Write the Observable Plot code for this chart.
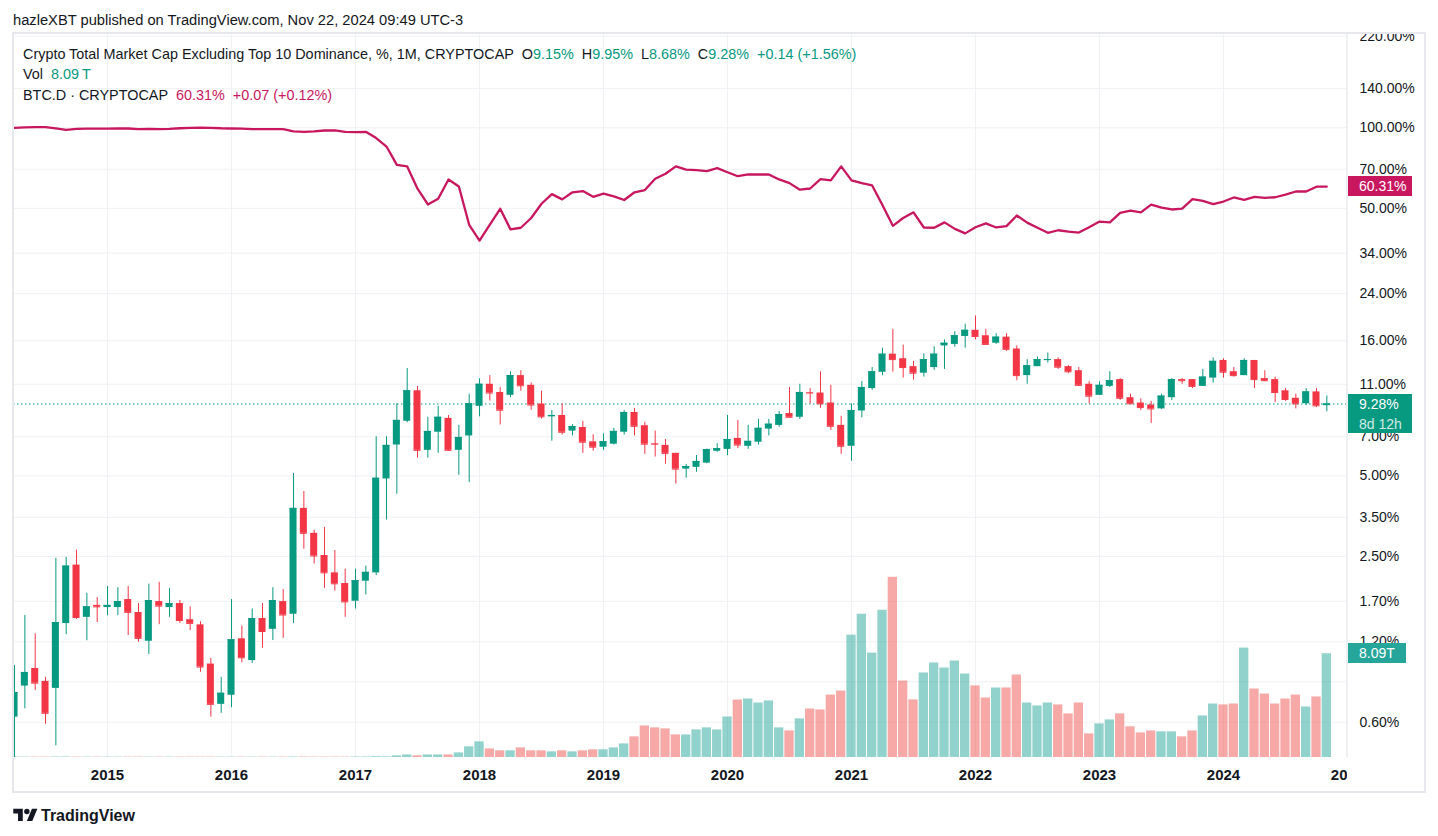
<!DOCTYPE html>
<html>
<head>
<meta charset="utf-8">
<script src="https://cdn.jsdelivr.net/npm/d3@7"></script>
<script src="https://cdn.jsdelivr.net/npm/@observablehq/plot@0.6"></script>
<style>
  html, body { margin: 0; padding: 0; background: #fff; }
  #wrap { position: relative; width: 1438px; height: 836px; overflow: hidden; font-family: "Liberation Sans", Arial, sans-serif; color: #131722; }
  #wrap svg { position: absolute; left: 0; top: 0; }
  .abs { position: absolute; white-space: nowrap; }
  .leg { font-size: 14.4px; line-height: 20px; }
  .hdr { font-size: 14.7px; line-height: 20px; }
  .g { color: #089981; }
  .m { color: #c8175f; }
</style>
</head>
<body>
<div id="wrap"></div>
<script>
// ---------- DATA (monthly, first bar = April 2014, month index relative to Jan 2015) ----------
const firstMonthIndex = -9; // Apr 2014
const yearLabels = [2015, 2016, 2017, 2018, 2019, 2020, 2021, 2022, 2023, 2024, 2025];
const priceTicks = [0.6, 0.85, 1.2, 1.7, 2.5, 3.5, 5, 7, 11, 16, 24, 34, 50, 70, 100, 140, 220];

// Crypto Total Market Cap Excluding Top 10 Dominance (%), monthly OHLC
const opens = [0.627,0.819,0.953,0.853,0.803,1.403,2.32,1.48,1.64,1.61,
  1.61,1.725,1.543,1.205,1.695,1.61,1.667,1.45,1.387,0.99,
  0.70,0.757,1.23,1.02,1.465,1.335,1.695,1.52,3.78,3.05,
  2.52,2.17,1.98,1.70,2.02,2.17,4.87,6.52,8.0,10.4,
  6.23,7.28,8.2,6.23,7.05,9.1,11.0,10.25,10.0,11.85,
  10.9,9.28,8.31,8.41,7.35,7.58,6.7,6.4,6.57,7.28,
  8.63,7.7,6.6,6.5,6.07,5.3,5.38,5.58,6.18,6.28,
  6.9,6.45,6.68,7.48,7.72,8.55,8.28,10.25,10.2,9.36,
  7.72,6.45,8.74,10.6,12.2,14.25,13.7,12.8,12.1,12.7,
  15.3,15.5,16.6,17.5,16.7,15.66,16.5,14.9,11.85,12.8,
  13.5,13.6,12.8,12.36,11.0,10.0,10.8,11.45,9.8,9.36,
  9.2,8.9,9.8,11.45,11.45,10.8,11.6,13.5,12.25,11.85,
  13.5,11.55,11.45,10.4,9.75,9.3,10.3,9.15];
const highs = [0.977,1.504,1.285,0.883,2.46,2.48,2.64,1.82,1.755,1.93,
  1.91,1.93,1.667,1.97,2.0,1.9,1.71,1.62,1.425,1.04,
  0.883,1.725,1.375,1.59,1.667,1.91,1.88,5.1,4.37,3.13,
  3.21,2.63,2.24,2.24,2.30,7.0,7.0,9.3,12.6,10.8,
  8.28,9.1,8.4,7.72,10.1,11.53,11.85,10.7,12.25,12.36,
  11.12,10.37,8.78,9.3,7.77,7.99,7.12,7.18,7.53,8.78,
  8.94,7.93,7.35,6.84,6.07,5.52,5.96,6.3,6.6,8.41,
  8.06,7.72,8.13,8.13,8.7,10.7,11.0,10.6,12.25,10.9,
  8.35,9.28,11.25,12.7,15.0,17.65,15.4,13.4,14.3,15.2,
  16.1,17.3,18.45,19.8,17.65,17.0,17.0,15.3,13.6,13.9,
  14.4,13.8,12.9,12.7,11.25,11.25,12.25,11.55,10.1,9.7,
  9.5,10.1,11.55,11.55,11.45,12.5,13.8,13.7,12.7,13.7,
  13.5,12.36,11.7,10.6,10.1,10.6,10.6,9.95];
const lows = [0.40,0.674,0.789,0.59,0.49,1.275,1.455,1.21,1.415,1.50,
  1.50,1.265,1.195,1.075,1.39,1.48,1.405,1.32,0.923,0.627,
  0.648,0.68,1.0,0.995,1.135,1.213,1.235,1.405,2.66,2.34,
  1.90,1.855,1.48,1.59,1.795,2.12,3.42,4.27,7.9,5.83,
  5.83,6.07,6.18,5.03,4.72,8.31,9.52,7.75,9.78,10.36,
  8.8,8.15,6.74,7.1,7.05,6.07,6.18,6.23,6.52,7.1,
  7.05,6.02,5.88,5.53,4.66,4.9,5.16,5.55,6.12,5.95,
  6.32,6.28,6.52,7.05,7.6,8.28,8.13,9.28,8.94,7.39,
  6.02,5.67,8.24,10.45,11.85,12.2,11.6,11.4,11.7,12.4,
  12.5,15.15,15.0,16.1,15.5,15.5,14.6,11.34,11.0,12.8,
  13.2,12.5,12.05,10.8,9.3,10.0,10.7,9.57,9.3,8.78,
  7.85,8.86,9.57,11.0,10.6,10.8,11.1,11.6,11.7,11.85,
  10.6,11.25,9.4,9.5,8.9,9.15,9.0,8.68];
const closes = [0.775,0.921,0.84,0.648,1.415,2.30,1.478,1.62,1.62,1.64,
  1.695,1.545,1.235,1.71,1.63,1.667,1.44,1.405,0.965,0.70,
  0.77,1.22,1.045,1.465,1.31,1.71,1.51,3.78,3.05,2.51,
  2.17,1.975,1.69,2.03,2.18,4.9,6.5,8.06,10.4,6.23,
  7.33,8.28,6.23,6.96,9.3,11.0,10.2,8.8,11.85,10.86,
  9.2,8.31,8.41,7.28,7.65,6.68,6.4,6.71,7.33,8.63,
  7.66,6.57,6.57,6.07,5.3,5.42,5.66,6.27,6.32,6.84,
  6.52,6.73,7.53,7.8,8.48,8.28,10.25,10.2,9.3,7.66,
  6.45,8.78,10.7,12.25,14.25,13.6,12.7,12.1,13.6,14.25,
  15.66,16.7,17.5,16.6,15.5,16.5,14.85,11.85,12.9,13.6,
  13.6,12.74,12.25,10.9,9.93,10.9,11.34,9.75,9.3,9.0,
  8.9,9.93,11.45,11.34,10.8,11.7,13.4,12.2,11.85,13.5,
  11.45,11.34,10.25,9.65,9.3,10.3,9.14,9.28];
// Volume, trillions
const volumes = [0.04,0.03,0.03,0.03,0.04,0.04,0.03,0.03,0.03,0.03,
  0.03,0.03,0.03,0.03,0.03,0.03,0.03,0.03,0.03,0.03,
  0.03,0.03,0.03,0.03,0.03,0.03,0.03,0.04,0.04,0.03,
  0.03,0.03,0.03,0.04,0.04,0.06,0.05,0.13,0.2,0.13,
  0.2,0.2,0.2,0.36,0.83,1.22,0.67,0.52,0.52,0.75,
  0.52,0.52,0.44,0.52,0.44,0.52,0.6,0.6,0.75,1.06,
  1.61,2.46,2.31,2.23,1.76,1.76,2.15,2.31,2.15,3.16,
  4.48,4.56,4.25,4.41,2.31,2.07,3.01,3.78,3.71,4.87,
  5.18,9.54,11.17,8.14,11.48,14.05,5.96,4.49,6.59,7.37,
  6.98,7.52,6.51,5.58,4.64,5.42,5.42,6.43,4.25,4.02,
  4.25,4.1,3.4,4.25,1.84,2.62,2.93,3.4,2.39,1.92,
  2.07,2.0,2.0,1.61,2.07,3.24,4.17,4.1,4.17,8.53,
  5.34,4.95,4.17,4.56,4.87,3.94,4.72,8.09];
// BTC.D (%), monthly close
const btcDominance = [100.0,100.3,100.5,100.5,99.5,98.3,99.1,99.3,99.3,99.3,
  99.4,99.4,98.8,99.1,98.9,99.1,99.6,100.0,100.1,100.0,
  99.6,99.4,99.2,98.8,98.8,98.8,98.8,97.0,96.6,96.9,
  97.7,97.7,96.5,96.3,96.6,91.5,85.1,72.7,71.7,59.2,
  51.7,54.3,64.1,60.3,43.4,37.9,43.5,49.8,41.7,42.3,
  46.0,52.0,56.5,54.0,57.4,58.0,55.2,56.7,55.4,53.7,
  57.4,58.5,64.5,67.3,71.7,69.8,69.5,68.9,70.7,68.2,
  65.9,66.9,66.9,66.9,64.1,62.1,58.7,59.3,64.3,63.6,
  71.7,63.6,62.1,60.9,51.3,43.0,46.0,48.3,42.4,42.3,
  44.3,41.9,40.3,42.5,43.9,42.4,42.9,47.0,44.2,42.3,
  40.5,41.4,40.9,40.6,42.5,44.6,44.3,48.1,49.0,48.3,
  51.6,50.3,49.5,49.9,54.1,53.3,51.8,53.0,54.9,53.8,
  55.2,54.7,55.0,56.3,57.8,57.8,60.24,60.31];

const headerText = "hazleXBT published on TradingView.com, Nov 22, 2024 09:49 UTC-3";
const seriesTitle = "Crypto Total Market Cap Excluding Top 10 Dominance, %, 1M, CRYPTOCAP";
const ohlcLabels = ["O", "H", "L", "C"];
const ohlcText = ["9.15%", "9.95%", "8.68%", "9.28%"];
const changeText = "+0.14 (+1.56%)";
const volText = "8.09\u2009T";
const btcTitle = "BTC.D \u00b7 CRYPTOCAP";
const btcText = ["60.31%", "+0.07 (+0.12%)"];
const countdownText = "8d 12h";

// ---------- BUILD ----------
const GREEN = "#089981", RED = "#f23645", MAG = "#c8175f";
const VOL_UP = "#26a69a", VOL_DN = "#ef5350";
const FONT = '"Liberation Sans", Arial, sans-serif';
const GRID = "#f0f1f4";

const bars = opens.map((o, i) => ({
  t: firstMonthIndex + i, open: o, high: highs[i], low: lows[i], close: closes[i],
  vol: volumes[i], btc: btcDominance[i], up: closes[i] >= o
}));
const yearTicks = yearLabels.map(y => (y - 2015) * 12);
const W = 1438, H = 836;
const M = {marginLeft: 13, marginRight: 91, marginTop: 33, marginBottom: 79};
const xDomain = [-9.1, 120];

const main = Plot.plot({
  width: W, height: H, ...M,
  style: {background: "transparent", fontFamily: FONT, fontSize: "14px", color: "#131722", overflow: "visible"},
  x: {type: "linear", domain: xDomain, label: null},
  y: {type: "log", domain: [0.443, 225.1], label: null},
  color: {type: "identity"},
  marks: [
    Plot.gridY(priceTicks, {stroke: GRID, strokeOpacity: 1}),
    Plot.gridX(yearTicks, {stroke: GRID, strokeOpacity: 1}),
    Plot.axisY(priceTicks, {anchor: "right", tickSize: 0, tickPadding: 12, label: null,
      tickFormat: d => d.toFixed(2) + "%", fontSize: 14, fill: "#131722"}),
    Plot.axisX(yearTicks, {anchor: "bottom", tickSize: 0, tickPadding: 12, label: null,
      tickFormat: d => String(2015 + d / 12), fontSize: 15, fontWeight: 700, fill: "#131722"}),
    Plot.ruleY([closes[closes.length - 1]], {stroke: GREEN, strokeDasharray: "1.5,2.5", strokeWidth: 1}),
    Plot.line(bars, {x: "t", y: "btc", stroke: MAG, strokeWidth: 2.3, clip: true}),
    Plot.ruleX(bars, {x: "t", y1: "low", y2: "high", stroke: d => d.up ? GREEN : RED, strokeWidth: 1, clip: true}),
    Plot.rect(bars, {x1: d => d.t - 0.34, x2: d => d.t + 0.34, y1: "open", y2: "close", fill: d => d.up ? GREEN : RED, clip: true}),
    Plot.ruleY(bars, {x1: d => d.t - 0.34, x2: d => d.t + 0.34, y: "close", stroke: d => d.up ? GREEN : RED, strokeWidth: 1, clip: true})
  ]
});

const vol = Plot.plot({
  width: W, height: H, ...M,
  style: {background: "transparent", overflow: "visible"},
  x: {type: "linear", domain: xDomain, label: null, axis: null},
  y: {domain: [0, 56.45], label: null, axis: null},
  color: {type: "identity"},
  marks: [
    Plot.rectY(bars, {x1: d => d.t - 0.45, x2: d => d.t + 0.45, y: "vol",
      fill: d => d.up ? VOL_UP : VOL_DN, fillOpacity: 0.5, clip: true})
  ]
});

const wrap = document.getElementById("wrap");
wrap.appendChild(main);
wrap.appendChild(vol);

function box(l, t, w, h, bg) {
  const d = document.createElement("div");
  d.className = "abs";
  Object.assign(d.style, {left: l + "px", top: t + "px", width: w + "px", height: h + "px", background: bg});
  wrap.appendChild(d);
  return d;
}
// masks (clip axis labels to pane)
box(1348, 0, 77, 33, "#fff");
box(1347, 758, 77, 33, "#fff");
// frame
const FR = "#e6e8ee";
box(12, 32, 1414, 2, FR);
box(12, 32, 2, 761, FR);
box(1424, 32, 2, 761, FR);
box(12, 791, 1414, 2, FR);
box(1346, 34, 1, 723, "#eceef2");

// price labels on the right axis via scales
const ys = main.scale("y"), vs = vol.scale("y");
const last = bars[bars.length - 1];
function tag(yc, h, bg, html, w) {
  const d = box(1348, Math.round(yc - 10), w, h, bg);
  d.style.color = "#fff";
  d.style.fontSize = "14px";
  d.style.lineHeight = "20px";
  d.style.boxSizing = "border-box";
  d.style.paddingLeft = "11px";
  d.innerHTML = html;
  return d;
}
tag(ys.apply(last.btc), 20, MAG, btcText[0], 64);
tag(ys.apply(last.close), 39, GREEN, ohlcText[3] + '<br><span style="opacity:.8">' + countdownText + '</span>', 64);
tag(vs.apply(last.vol), 20, VOL_UP, volText.replace("\u2009", ""), 58);

// legend
function text(l, t, html, cls) {
  const d = document.createElement("div");
  d.className = "abs " + (cls || "");
  d.style.left = l + "px"; d.style.top = t + "px";
  d.innerHTML = html;
  wrap.appendChild(d);
  return d;
}
text(13, 10, headerText, "hdr");
let l1 = seriesTitle + "&nbsp;&nbsp;";
ohlcLabels.forEach((k, i) => { l1 += k + '<span class="g">' + ohlcText[i] + '</span>&nbsp;&nbsp;'; });
l1 += '<span class="g">' + changeText + '</span>';
text(23, 44, l1, "leg");
text(23, 64, 'Vol&nbsp;&nbsp;<span class="g">' + volText + '</span>', "leg");
text(23, 85, btcTitle + '&nbsp;&nbsp;<span class="m">' + btcText[0] + '&nbsp;&nbsp;' + btcText[1] + '</span>', "leg");

// footer logo
text(13, 806, '<svg width="25" height="19" viewBox="0 0 36 28" style="position:static;vertical-align:middle"><path d="M14 22H7V11H0V4h14v18zM28 22h-8l7.5-18h8L28 22z" fill="#131722"/><circle cx="20" cy="8" r="4" fill="#131722"/></svg><span style="font-weight:700;font-size:16px;vertical-align:middle;margin-left:3px">TradingView</span>', "");
</script>
</body>
</html>
